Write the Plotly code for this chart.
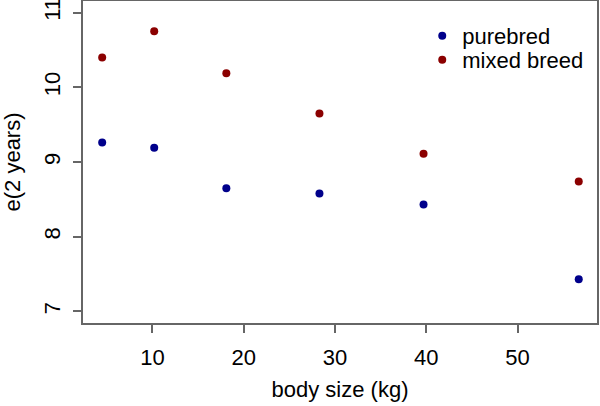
import plotly.graph_objects as go

body_size = [4.5, 10.2, 18.1, 28.3, 39.7, 56.7]
purebred = [9.26, 9.19, 8.65, 8.58, 8.43, 7.43]
mixed_breed = [10.40, 10.75, 10.19, 9.65, 9.11, 8.74]

x_ticks = [10, 20, 30, 40, 50]
y_ticks = [7, 8, 9, 10, 11]

fig = go.Figure()
fig.add_trace(go.Scatter(x=body_size, y=purebred, mode="markers", name="purebred",
                         marker=dict(color="#00008B", size=8), legend="legend"))
fig.add_trace(go.Scatter(x=body_size, y=mixed_breed, mode="markers", name="mixed breed",
                         marker=dict(color="#8B0000", size=8), legend="legend2"))

axis_style = dict(showline=True, mirror=True, linecolor="#666666", linewidth=1.5,
                  ticks="outside", ticklen=8, tickcolor="#666666", tickwidth=1.5,
                  showgrid=False, zeroline=False, automargin=False, ticklabeloverflow="allow",
                  tickfont=dict(size=22, color="black"))

leg = dict(xanchor="left", yanchor="middle", bgcolor="rgba(0,0,0,0)", font=dict(size=22))

fig.update_layout(
    width=600, height=406,
    margin=dict(l=83, r=3, t=1, b=83),
    plot_bgcolor="white", paper_bgcolor="white",
    font=dict(family="Liberation Sans, Arial, sans-serif", size=22, color="black"),
    xaxis=dict(range=[2.4, 58.7], tickvals=x_ticks, ticklabelstandoff=6,
               title=dict(text="body size (kg)", standoff=12, font=dict(size=22)),
               **axis_style),
    yaxis=dict(range=[6.845, 11.156], tickvals=y_ticks, tickangle=-90, ticklabelstandoff=4,
               title=dict(text="e(2 years)", standoff=20, font=dict(size=22)), **axis_style),
    legend=dict(x=0.66, y=1 - 35 / 322, **leg),
    legend2=dict(x=0.66, y=1 - 59 / 322, **leg),
    showlegend=True,
)

fig.write_html("out.html", config={"displayModeBar": False},
               post_script="document.body.style.margin='0';")
